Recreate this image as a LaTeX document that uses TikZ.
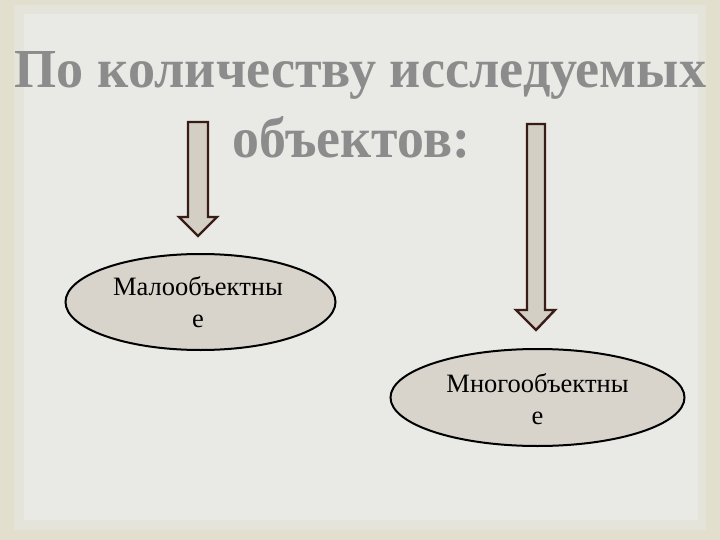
\documentclass[tikz,border=0pt]{standalone}
\usepackage{fontspec}
\setmainfont{Liberation Serif}
\usepackage{graphicx}
\usetikzlibrary{shapes.geometric}
\definecolor{bgouter}{HTML}{E2DFCF}
\definecolor{bgmid}{HTML}{E5E4DB}
\definecolor{bgpanel}{HTML}{E9E9E6}
\definecolor{titlegray}{HTML}{8C8C8C}
\definecolor{arrowfill}{HTML}{D3CFC5}
\definecolor{arrowline}{HTML}{3A1C16}
\definecolor{ellfill}{HTML}{D8D4CB}
\tikzset{
  blockarrow/.style={fill=arrowfill, draw=arrowline, line width=2.4pt, line join=miter},
  oval/.style={ellipse, draw=black, line width=2pt, fill=ellfill, inner sep=0pt},
  ovaltext/.style={inner sep=0pt, align=center, font=\fontsize{26.5}{32}\selectfont, text=black},
  titletext/.style={inner sep=0pt, anchor=base, text=titlegray, font=\bfseries}
}
\begin{document}
\begin{tikzpicture}[x=1pt,y=-1pt]
\useasboundingbox (0,0) rectangle (720,540);
\fill[bgouter] (0,0) rectangle (720,540);
\fill[bgmid] (14,5) rectangle (706,530);
\fill[bgpanel] (24,14) rectangle (698,520);
% title
\node[titletext] (t1) at (360.5,88) {\resizebox{691pt}{36pt}{По количеству исследуемых}};
\node[titletext] (t2) at (351.5,158) {\resizebox{237pt}{41pt}{объектов:}};
% block arrows
\draw[blockarrow] (188,122) -- (208,122) -- (208,217) -- (217,217) -- (198,236)
  -- (179,217) -- (188,217) -- cycle;
\draw[blockarrow] (527,124) -- (545,124) -- (545,310) -- (555,310) -- (536,330)
  -- (516,310) -- (527,310) -- cycle;
% ellipses
\node[oval, minimum width=270pt, minimum height=96pt] (e1) at (200.5,302) {};
\node[ovaltext] (l1) at (198,302) {Малообъектны\\е};
\node[oval, minimum width=294pt, minimum height=97pt] (e2) at (537.5,397.5) {};
\node[ovaltext] (l2) at (537.5,399) {Многообъектны\\е};
\end{tikzpicture}
\end{document}
